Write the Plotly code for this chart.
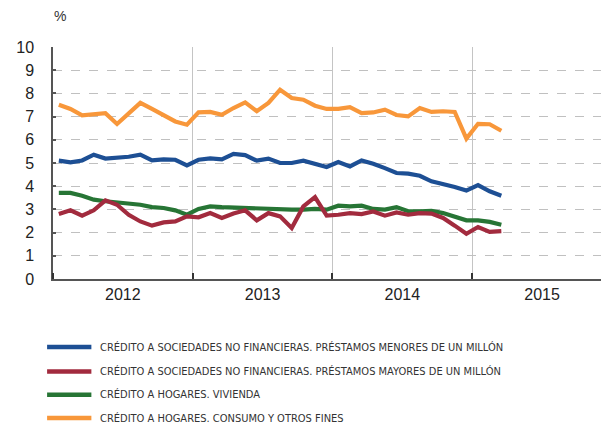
import plotly.graph_objects as go

# monthly data Jan 2012 - Mar 2015
months = list(range(39))
menores = [5.10, 5.03, 5.11, 5.36, 5.19, 5.23, 5.27, 5.36, 5.11, 5.16, 5.14, 4.90,
           5.14, 5.20, 5.16, 5.39, 5.34, 5.10, 5.19, 5.00, 5.00, 5.10, 4.97, 4.83,
           5.04, 4.85, 5.11, 4.97, 4.78, 4.57, 4.54, 4.45, 4.21, 4.11, 3.97, 3.81,
           4.05, 3.78, 3.59]
mayores = [2.80, 2.96, 2.73, 2.96, 3.39, 3.20, 2.77, 2.48, 2.30, 2.44, 2.48, 2.70,
           2.66, 2.84, 2.63, 2.82, 2.96, 2.53, 2.84, 2.70, 2.20, 3.13, 3.53, 2.73,
           2.77, 2.84, 2.80, 2.91, 2.73, 2.87, 2.77, 2.84, 2.82, 2.63, 2.30, 1.95,
           2.24, 2.03, 2.06]
vivienda = [3.71, 3.71, 3.59, 3.42, 3.35, 3.30, 3.25, 3.20, 3.10, 3.06, 2.96, 2.77,
            3.02, 3.13, 3.10, 3.08, 3.06, 3.02, 2.99, 2.99, 2.99, 2.99, 3.02, 2.99,
            3.16, 3.13, 3.16, 3.02, 2.99, 3.10, 2.92, 2.92, 2.94, 2.84, 2.70, 2.53,
            2.53, 2.46, 2.34]
consumo = [7.51, 7.33, 7.05, 7.08, 7.15, 6.68, 7.11, 7.59, 7.33, 7.05, 6.79, 6.65,
           7.18, 7.20, 7.08, 7.37, 7.61, 7.23, 7.59, 8.16, 7.80, 7.73, 7.47, 7.33,
           7.33, 7.41, 7.15, 7.18, 7.30, 7.07, 7.01, 7.37, 7.20, 7.23, 7.20, 6.05,
           6.69, 6.67, 6.39]
years = ["2012", "2013", "2014", "2015"]
series_names = [
    "CRÉDITO A SOCIEDADES NO FINANCIERAS. PRÉSTAMOS MENORES DE UN MILLÓN",
    "CRÉDITO A SOCIEDADES NO FINANCIERAS. PRÉSTAMOS MAYORES DE UN MILLÓN",
    "CRÉDITO A HOGARES. VIVIENDA",
    "CRÉDITO A HOGARES. CONSUMO Y OTROS FINES",
]
colors = ["#1d4f94", "#a22b3e", "#277535", "#f8973a"]
series = [menores, mayores, vivienda, consumo]

# page body has an 8px margin; compensate so the plot lands where the reference has it
OFF = 8
W, H = 609, 430
L, T = 44 - OFF, 47.3 - OFF
PLOT_H = 232.0
B = H - T - PLOT_H
px_per_month = 142 / 12.0
xmax = (W - 44) / px_per_month

fig = go.Figure()
xs = [m + 0.5 for m in months]
for idx in [0, 2, 1, 3]:
    fig.add_trace(go.Scatter(x=xs, y=series[idx], mode="lines", name=series_names[idx],
                             line=dict(color=colors[idx], width=4.2), showlegend=False,
                             hoverinfo="skip"))

fig.update_layout(
    width=W, height=H,
    margin=dict(l=L, r=W - L - (W - 44), t=T, b=B, pad=0),
    paper_bgcolor="white", plot_bgcolor="white",
    font=dict(family="Liberation Sans, Arial, sans-serif", color="#222222"),
    xaxis=dict(range=[0, xmax], tickmode="array",
               tickvals=[6 + 12 * i for i in range(len(years))], ticktext=years,
               ticks="", showgrid=False, zeroline=False,
               showline=True, linecolor="#555555", linewidth=1.5,
               tickfont=dict(size=16, color="#222222"),
               minor=dict(tickmode="array", tickvals=[0, 12, 24, 36],
                          showgrid=True, gridcolor="#c4c4c4", gridwidth=1.3,
                          ticks="inside", ticklen=6, tickcolor="#333333", tickwidth=1.5)),
    yaxis=dict(range=[0, 10], dtick=1, tick0=0,
               showgrid=True, gridcolor="#c0c0c0", griddash="dash", gridwidth=1,
               zeroline=False, showline=True, linecolor="#555555", linewidth=1.5,
               ticks="inside", ticklen=3, tickcolor="#555555", tickwidth=1.5,
               tickfont=dict(size=16, color="#222222"), ticklabelstandoff=14),
)

PW = W - 44  # plot width in px


def px_x(x):
    return (x - OFF - L) / PW


def px_y(y):
    return (H - B - (y - OFF)) / PLOT_H


fig.add_annotation(text="%", xref="paper", yref="paper", x=px_x(43), xanchor="left",
                   y=px_y(16), yanchor="middle", showarrow=False,
                   font=dict(size=14, color="#333333"))

# legend drawn manually
leg_y = [347.3, 371.7, 395.0, 418.3]
for i, name in enumerate(series_names):
    yy = leg_y[i]
    fig.add_shape(type="line", xref="paper", yref="paper",
                  x0=px_x(38), x1=px_x(83), y0=px_y(yy), y1=px_y(yy),
                  line=dict(color=colors[i], width=4.5))
    fig.add_annotation(text=name, xref="paper", yref="paper",
                       x=px_x(90), xanchor="left", y=px_y(yy), yanchor="middle",
                       showarrow=False,
                       font=dict(family="DejaVu Sans Condensed, Liberation Sans Narrow, Roboto, sans-serif",
                                 size=11, color="#333333"))

fig.write_html("out.html")
